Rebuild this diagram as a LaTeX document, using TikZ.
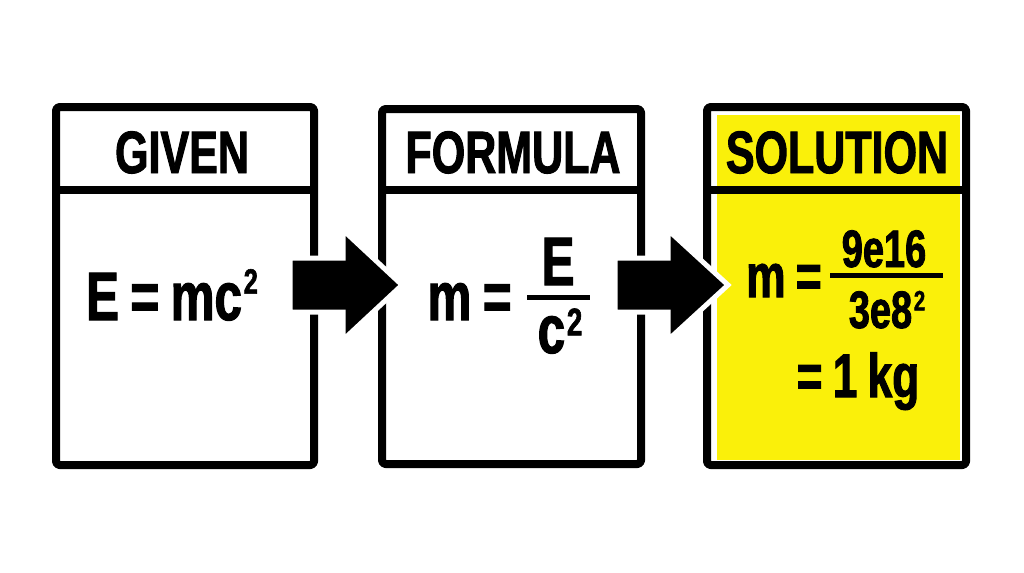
\documentclass[tikz,border=0pt]{standalone}
\usepackage{fontspec}
\newfontfamily\condfont{Liberation Sans}[FakeStretch=0.72, FakeBold=1.6]
\definecolor{hiyellow}{RGB}{250,240,10}
\newcommand\smallsup[2]{\kern1pt\raisebox{#1}{\fontsize{#2}{#2}\selectfont 2}}

\begin{document}
\begin{tikzpicture}[x=0.02cm,y=-0.02cm]

        \useasboundingbox[fill=white] (0,0) rectangle (1024,572);

        % boxes
        \fill[hiyellow] (717,115) rectangle (960,460);
        \begin{scope}[every path/.style={draw, line width=8*0.02cm, rounded corners=2pt, line join=round}]
          \draw (56,107) rectangle (314,465);
          \draw (382,109) rectangle (641,464);
          \draw (707,107) rectangle (966,465);
          \draw (56,190) -- (314,190);
          \draw (382,190) -- (641,190);
          \draw (707,190) -- (966,190);
        \end{scope}

        % arrows
        \begin{scope}[every path/.style={fill=black, draw=white, line width=5*0.02cm, line join=miter}]
          \path (290,258) -- (343,258) -- (343,230) -- (402,285) -- (343,340) -- (343,312) -- (290,312) -- cycle;
          \path (615,258) -- (668,258) -- (668,230) -- (728,285) -- (668,340) -- (668,312) -- (615,312) -- cycle;
        \end{scope}

        \begin{scope}[every node/.style={inner sep=0pt, anchor=base, font=\condfont\bfseries\fontsize{34}{34}\selectfont}]
          \node (given)    at (182,173) {GIVEN};
          \node (formula)  at (513,173) {FORMULA};
          \node (solution) at (837,173) {SOLUTION};
        \end{scope}

        \begin{scope}[every node/.style={inner sep=0pt, anchor=base, font=\condfont\bfseries\fontsize{39}{39}\selectfont}]
          \node (emc)  at (172,320) {E\,=\,mc\smallsup{15pt}{20}};
          \node[anchor=base east] (m2) at (512,320) {m\,=};
          \node (e2)   at (558,285) {E};
          \node (c2)   at (560,353) {c\smallsup{10pt}{22}};
        \end{scope}

        \begin{scope}[every node/.style={inner sep=0pt, anchor=base, font=\condfont\bfseries\fontsize{35}{35}\selectfont}]
          \node[anchor=base east] (m3) at (822,297) {m\,=};
          \node[font=\condfont\bfseries\fontsize{30}{30}\selectfont] (num3) at (884,267) {9e16};
          \node[font=\condfont\bfseries\fontsize{30}{30}\selectfont] (den3) at (887,328) {3e8\smallsup{10pt}{16}};
          \node (kg3)  at (858,397) {=\,1\,kg};
        \end{scope}

        % fraction bars
        \draw[line width=5*0.02cm] (527,297) -- (590,297);
        \draw[line width=5*0.02cm] (830,275) -- (943,275);

      \end{tikzpicture}
\end{document}
